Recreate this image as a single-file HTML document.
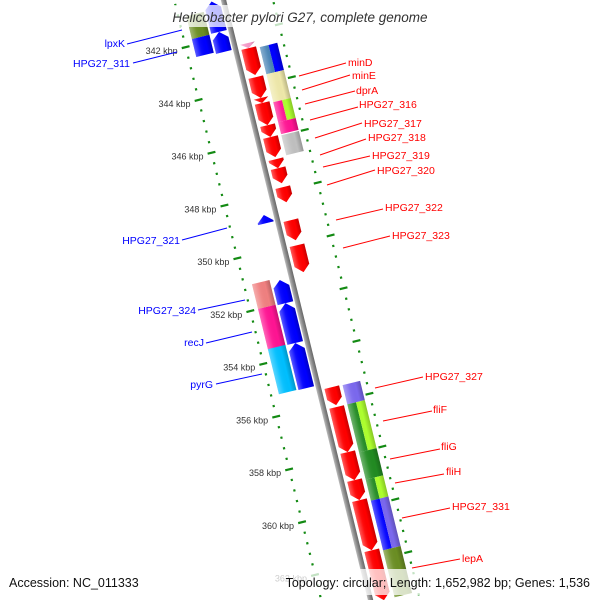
<!DOCTYPE html>
<html><head><meta charset="utf-8"><style>
html,body{margin:0;padding:0;background:#fff;width:600px;height:600px;overflow:hidden;}
svg{display:block;font-family:"Liberation Sans",sans-serif;overflow:hidden;}
</style></head><body>
<svg id="chart" width="600" height="600" viewBox="0 0 600 600">
<defs>
<linearGradient id="shade" x1="0" y1="0" x2="1" y2="0">
<stop offset="0" stop-color="#fff" stop-opacity="0.35"/>
<stop offset="0.35" stop-color="#fff" stop-opacity="0.05"/>
<stop offset="0.7" stop-color="#000" stop-opacity="0"/>
<stop offset="1" stop-color="#000" stop-opacity="0.22"/>
</linearGradient>
<linearGradient id="bb" x1="0" y1="0" x2="1" y2="0">
<stop offset="0" stop-color="#bbb"/><stop offset="0.5" stop-color="#8a8a8a"/><stop offset="1" stop-color="#666"/>
</linearGradient>
</defs>
<g id="map" transform="translate(223.5,0) rotate(-13.77)"></g>
<g id="labels"></g>
<g id="overlay"></g>
</svg>
<script>
// ---- data (kbp) ----
const tickMajor = [342,344,346,348,350,352,354,356,358,360,362];
const tickLabels = ["342 kbp","344 kbp","346 kbp","348 kbp","350 kbp","352 kbp","354 kbp","356 kbp","358 kbp","360 kbp","362 kbp"];
// forward-strand genes (red track)
const fwdStart = [342.40,342.59,343.69,344.48,344.67,345.51,345.96,346.80,347.14,347.86,349.11,350.06,355.44,356.19,357.90,358.96,359.72,361.62];
const fwdEnd   = [342.59,343.61,344.48,344.67,345.51,345.96,346.72,347.14,347.71,348.43,349.87,351.08,356.12,357.90,358.96,359.72,361.62,363.51];
const fwdColor = ["#f49ac8","red","red","red","red","red","red","red","red","red","red","red","red","red","red","red","red","red"];
// reverse-strand genes (blue track)
const revStart = [340.6,341.75,348.69,351.15,352.03,353.54];
const revEnd   = [341.75,342.51,349.0,352.03,353.54,355.25];
// forward COG track
const cogFStart = [342.65,343.68,344.74,345.50,345.99,355.46,356.19,358.01,359.04,359.84,361.72];
const cogFEnd   = [343.68,344.74,345.50,345.95,346.75,356.19,358.01,359.04,359.84,361.72,363.50];
const cogFColA  = ["#4682b4","#eee8aa","#ff1493","#ff1493","#c0c0c0","#7b68ee","#228b22","#228b22","#228b22","#0000ff","#6b8e23"];
const cogFColB  = ["#0000ff","#eee8aa","#adff2f","#ff1493","#c0c0c0","#7b68ee","#adff2f","#228b22","#adff2f","#7b68ee","#6b8e23"];
// reverse COG track
const cogRStart = [340.9,341.77,351.06,352.0,353.52];
const cogREnd   = [341.77,342.45,352.0,353.56,355.23];
const cogRCol   = ["#6b8e23","#0000ff","#f08080","#ff1493","#00bfff"];
// annotation labels (screen coords)
const rLabNames = ["minD","minE","dprA","HPG27_316","HPG27_317","HPG27_318","HPG27_319","HPG27_320","HPG27_322","HPG27_323","HPG27_327","fliF","fliG","fliH","HPG27_331","lepA"];
const rLabLine = [[299,76,346,63],[302,90,350,75],[305,104,355,91],[310,120,358,107],[315,138,362,123],[320,155,366,139],[323,167,370,156],[327,185,375,170],[336,220,383,209],[343,248,390,236],[375,388,423,377],[383,421,432,411],[390,459,440,449],[395,483,444,474],[402,518,450,508],[412,568,460,559]];
const rLabPos = [[348,62],[352,75],[356,90],[359,104],[364,123],[368,137],[372,155],[377,170],[385,207],[392,235],[425,376],[433,409],[441,446],[446,471],[452,506],[462,558]];
const lLabNames = ["lpxK","HPG27_311","HPG27_321","HPG27_324","recJ","pyrG"];
const lLabLine = [[127,44,182,30],[133,63,177,52],[182,240,227,228],[198,310,245,300],[206,343,252,332],[216,384,262,374]];
const lLabPos = [[125,43],[130,63],[180,240],[196,310],[204,342],[213,384]];

// ---- geometry ----
const NS="http://www.w3.org/2000/svg";
const map=document.getElementById('map'), labs=document.getElementById('labels'), ov=document.getElementById('overlay');
function V(k){return 36.7+(k-342)*27.17;}
function SX(u,v){return 223.5+0.971*u+0.238*v;}
function SY(u,v){return -0.238*u+0.971*v;}
function mk(tag,attrs,parent){const e=document.createElementNS(NS,tag);for(const k in attrs)e.setAttribute(k,attrs[k]);parent.appendChild(e);return e;}
const TR={red:13,rw:15,cogF:33,cw:18,blue:-12,bw:16,cogR:-31,tick:48};

let bb=mk('rect',{x:-2.6,y:-30,width:5.2,height:660,fill:'url(#bb)'},map);



for(let k=340;k<=364.01;k+=0.4){
  const kk=Math.round(k*10)/10;
  const major=Math.abs(kk/2-Math.round(kk/2))<0.01;
  [-TR.tick,TR.tick].forEach(u=>{
    const v=V(kk);
    if(SY(u,v)>598||SY(u,v)<-2)return;
    let t;
    if(major){t=mk('rect',{x:u-4,y:v-1,width:8,height:2.2,fill:'#138a13'},map);}
    else{t=mk('rect',{x:u-1,y:v-1,width:2.2,height:2.2,fill:'#138a13'},map);}
    
    
  });
}
tickMajor.forEach((k,i)=>{
  const v=V(k),x=SX(-TR.tick,v),y=SY(-TR.tick,v);
  const t=mk('text',{x:x-8,y:y+7,'text-anchor':'end','font-size':'9',fill:'#333'},labs);
  t.textContent=tickLabels[i];
  
  
});

function arrow(u,w,s,e,dir,col,name){
  const a=V(s),b=V(e),h=Math.min(7,b-a),l=u-w/2,r=u+w/2;
  let pts;
  if(dir>0)pts=[[l,a],[r,a],[r,b-h],[u,b],[l,b-h]];
  else pts=[[u,a],[r,a+h],[r,b],[l,b],[l,a+h]];
  const p=pts.map(q=>q.join(',')).join(' ');
  const g=mk('g',{},map);
  
  
  mk('polygon',{points:p,fill:col},g);
  mk('polygon',{points:p,fill:'url(#shade)'},g);
}
function box(u,w,s,e,c1,c2,name){
  const a=V(s),b=V(e),l=u-w/2;
  const g=mk('g',{},map);
  
  
  if(c1===c2){mk('rect',{x:l,y:a,width:w,height:b-a,fill:c1},g);}
  else{mk('rect',{x:l,y:a,width:w/2,height:b-a,fill:c1},g);mk('rect',{x:u,y:a,width:w/2,height:b-a,fill:c2},g);}
  mk('rect',{x:l,y:a,width:w,height:b-a,fill:'url(#shade)'},g);
}
fwdStart.forEach((s,i)=>arrow(TR.red,TR.rw,s,fwdEnd[i],1,fwdColor[i],'forward-gene'));
revStart.forEach((s,i)=>arrow(TR.blue,TR.bw,s,revEnd[i],-1,'#0000ff','reverse-gene'));
cogFStart.forEach((s,i)=>box(TR.cogF,TR.cw,s,cogFEnd[i],cogFColA[i],cogFColB[i],'forward-cog-box'));
cogRStart.forEach((s,i)=>box(TR.cogR,TR.cw,s,cogREnd[i],cogRCol[i],cogRCol[i],'reverse-cog-box'));

rLabNames.forEach((n,i)=>{
  const L=rLabLine[i];
  const ln=mk('line',{x1:L[0],y1:L[1],x2:L[2],y2:L[3],stroke:'red','stroke-width':1},labs);
  
  
  const t=mk('text',{x:rLabPos[i][0],y:rLabPos[i][1]+4,'font-size':'10.5',fill:'red'},labs);
  t.textContent=n;
  
  
});
lLabNames.forEach((n,i)=>{
  const L=lLabLine[i];
  const ln=mk('line',{x1:L[0],y1:L[1],x2:L[2],y2:L[3],stroke:'blue','stroke-width':1},labs);
  
  
  const t=mk('text',{x:lLabPos[i][0],y:lLabPos[i][1]+4,'font-size':'10.5',fill:'blue','text-anchor':'end'},labs);
  t.textContent=n;
  
  
});

let r1=mk('rect',{x:148,y:5,width:304,height:22,fill:'#fff','fill-opacity':0.75},ov);


let tt=mk('text',{x:300,y:22,'text-anchor':'middle','font-size':'13.5','font-style':'italic',fill:'#333'},ov);
tt.textContent='Helicobacter pylori G27, complete genome';


let r2=mk('rect',{x:0,y:569,width:600,height:26,fill:'#fff','fill-opacity':0.75},ov);


let f1=mk('text',{x:9,y:587,'font-size':'12.5',fill:'#111'},ov);
f1.textContent='Accession: NC_011333';


let f2=mk('text',{x:590,y:587,'text-anchor':'end','font-size':'12.5',fill:'#111'},ov);
f2.textContent='Topology: circular; Length: 1,652,982 bp; Genes: 1,536';


</script>
</body></html>
